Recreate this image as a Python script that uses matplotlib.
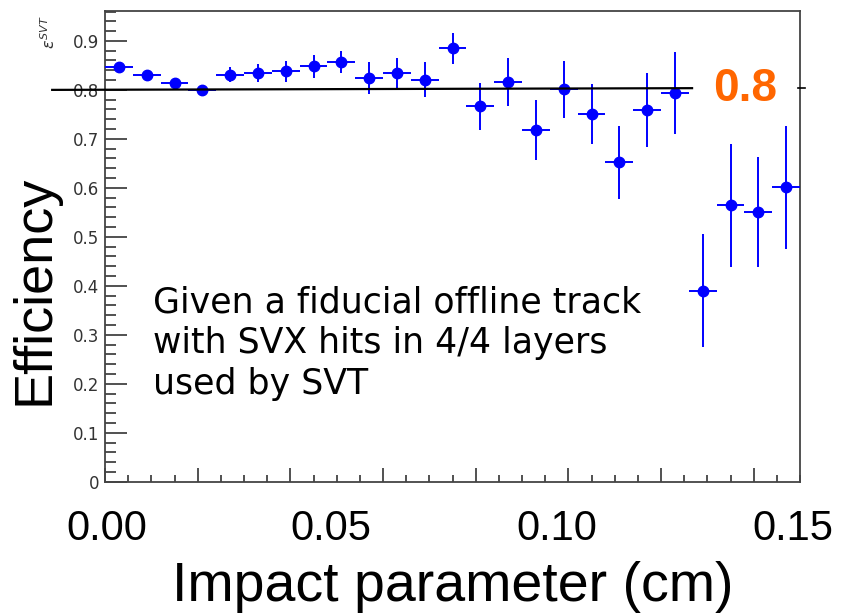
import numpy as np
import matplotlib
import matplotlib.pyplot as plt
from matplotlib.ticker import MultipleLocator, FuncFormatter
import matplotlib.transforms as mtransforms
matplotlib.use('Agg')

# bin centres (cm), bin half width and measured efficiency
ip = [0.003, 0.009, 0.015, 0.021, 0.027, 0.033, 0.039, 0.045, 0.051, 0.057,
      0.063, 0.069, 0.075, 0.081, 0.087, 0.093, 0.099, 0.105, 0.111, 0.117,
      0.123, 0.129, 0.135, 0.141, 0.147]
half_bin = 0.003
eff = [0.846, 0.831, 0.815, 0.800, 0.831, 0.835, 0.838, 0.848, 0.857, 0.824,
       0.835, 0.821, 0.885, 0.767, 0.817, 0.718, 0.801, 0.751, 0.652, 0.759,
       0.793, 0.390, 0.564, 0.551, 0.601]
eff_err = [0.006, 0.006, 0.007, 0.009, 0.015, 0.018, 0.021, 0.023, 0.022, 0.032,
           0.031, 0.036, 0.032, 0.048, 0.049, 0.062, 0.058, 0.061, 0.075, 0.076,
           0.084, 0.115, 0.126, 0.112, 0.126]

ref_level = 0.8
ref_line_x = [-0.0114, 0.1267]
ref_line_y = [0.800, 0.8035]

x_labels = ['0.00', '0.05', '0.10', '0.15']
x_label_pos = [0.0004, 0.0488, 0.0976, 0.1485]

fig = plt.figure(figsize=(8.53, 6.16), dpi=100)
ax = fig.add_axes([0.1231, 0.2180, 0.8148, 0.7641])

ax.errorbar(ip, eff, xerr=half_bin, yerr=eff_err, fmt='o', color='blue',
            ms=7.5, elinewidth=1.4, capsize=0, clip_on=False, zorder=3)

ax.plot(ref_line_x, ref_line_y, color='black', lw=1.6, clip_on=False, zorder=4)

ax.set_xlim(0, 0.15)
ax.set_ylim(0, 0.961)

for s in ax.spines.values():
    s.set_color('#444444')
    s.set_linewidth(1.3)

ax.xaxis.set_major_locator(MultipleLocator(0.02))
ax.xaxis.set_minor_locator(MultipleLocator(0.005))
ax.yaxis.set_major_locator(MultipleLocator(0.1))
ax.yaxis.set_minor_locator(MultipleLocator(0.02))
ax.tick_params(axis='x', which='both', direction='in', top=False, labelbottom=False,
               color='#333333', width=1.2)
ax.tick_params(axis='x', which='major', length=10)
ax.tick_params(axis='x', which='minor', length=5)
ax.tick_params(axis='y', which='both', direction='in', right=False, color='#333333',
               width=1.2, labelsize=12, labelcolor='#333333', pad=4)
ax.tick_params(axis='y', which='major', length=15.5)
ax.tick_params(axis='y', which='minor', length=8)
ax.yaxis.set_major_formatter(FuncFormatter(lambda v, p: '0' if abs(v) < 1e-9 else f'{v:.1f}'))

# big x tick labels overlaid on the ROOT axis
trans = mtransforms.blended_transform_factory(ax.transData, ax.transAxes)
for pos, lab in zip(x_label_pos, x_labels):
    ax.text(pos, -0.1005, lab, transform=trans, ha='center', va='center',
            fontsize=30, family='Liberation Sans', clip_on=False)

fig.text(0.531, 0.024, 'Impact parameter (cm)', ha='center', va='baseline',
         fontsize=40, family='Liberation Sans')
fig.text(0.0574, 0.529, 'Efficiency', rotation=90, rotation_mode='anchor',
         ha='center', va='baseline', fontsize=39, family='Liberation Sans')
fig.text(0.057, 0.948, r'$\varepsilon^{SVT}$', rotation=90, ha='center', va='center',
         fontsize=11.5, color='#333333')

fig.text(0.873, 0.855, '0.8', ha='center', va='center', fontsize=33,
         fontweight='bold', color='#ff6600', family='Liberation Sans')
fig.add_artist(plt.Line2D([0.9355, 0.9437], [0.857, 0.857], color='black', lw=1.2))

fig.text(0.1794, 0.537,
         'Given a fiducial offline track\nwith SVX hits in 4/4 layers\nused by SVT',
         ha='left', va='top', fontsize=25, linespacing=1.25,
         family='DejaVu Sans')

fig.savefig('out.png', dpi=100)
